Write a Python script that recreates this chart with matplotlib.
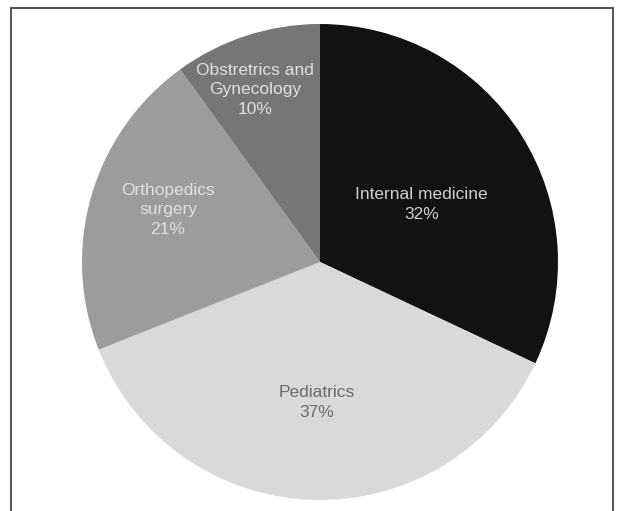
import numpy as np
import matplotlib.pyplot as plt
from matplotlib.patches import Rectangle

plt.rcParams['font.family'] = ['Liberation Sans', 'DejaVu Sans']

categories = ['Internal medicine', 'Pediatrics', 'Orthopedics\nsurgery', 'Obstretrics and\nGynecology']
shares = [32, 37, 21, 10]
colors = ['#121212', '#d9d9d9', '#9c9c9c', '#767676']
text_colors = ['#d0d0d0', '#6a6a6a', '#e0e0e0', '#e0e0e0']
# label placement: fraction of radius, angle nudge in degrees
label_dist = [0.49, 0.59, 0.675, 0.773]
label_nudge = [-3.0, 0.6, -2.7, 2.7]

fig = plt.figure(figsize=(6.18, 5.11), dpi=100)
ax = fig.add_axes([0, 0, 1, 1])

cx, cy, r = 320, 249, 238
wedges, _ = ax.pie(shares, colors=colors, startangle=90, counterclock=False,
                   center=(cx, cy), radius=r, frame=True,
                   wedgeprops=dict(linewidth=0))
ax.set_xlim(0, 618)
ax.set_ylim(0, 511)
ax.axis('off')

for w, name, val, tc, d, nd in zip(wedges, categories, shares, text_colors, label_dist, label_nudge):
    ang = np.deg2rad((w.theta1 + w.theta2) / 2 + nd)
    x = cx + d * r * np.cos(ang)
    y = cy + d * r * np.sin(ang)
    ax.text(x, y, f'{name}\n{val}%', ha='center', va='center',
            fontsize=12.5, color=tc, linespacing=1.38)

ax.add_patch(Rectangle((11, -10), 602, 513, fill=False, edgecolor='#444444', linewidth=1.3))

fig.savefig('out.png', dpi=100)
